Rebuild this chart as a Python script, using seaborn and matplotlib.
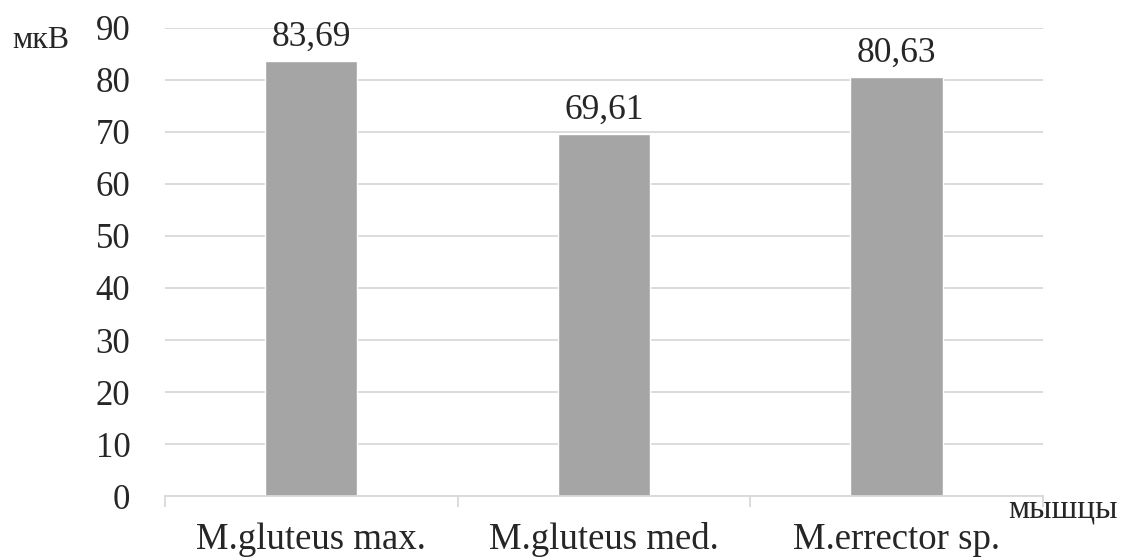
import matplotlib
matplotlib.use("Agg")
import matplotlib.pyplot as plt
import seaborn as sns
import pandas as pd

categories = ["M.gluteus max.", "M.gluteus med.", "M.errector sp."]
values = [83.69, 69.61, 80.63]
value_labels = ["83,69", "69,61", "80,63"]
y_ticks = [0, 10, 20, 30, 40, 50, 60, 70, 80, 90]

sns.set_style("white")
plt.rcParams['font.family'] = ['Liberation Serif', 'DejaVu Serif']

df = pd.DataFrame({"cat": categories, "val": values})

fig = plt.figure(figsize=(11.25, 5.58), dpi=100)
ax = fig.add_axes([0.1467, 0.111, 0.927 - 0.1467, 0.95 - 0.111])

sns.barplot(data=df, x="cat", y="val", color="#A5A5A5", saturation=1,
            width=0.315, ax=ax, zorder=3)

ax.set_ylim(0, 90)
ax.set_xlim(-0.5, 2.5)
ax.set_yticks(y_ticks)
ax.set_yticklabels([str(t) for t in y_ticks], fontsize=25)
ax.yaxis.grid(True, color="#D9D9D9", linewidth=1.3, zorder=0)
ax.set_axisbelow(True)

for s in ["left", "right", "top"]:
    ax.spines[s].set_visible(False)
ax.spines["bottom"].set_color("#D9D9D9")
ax.spines["bottom"].set_linewidth(1.3)
ax.spines["bottom"].set_zorder(4)

ax.tick_params(axis="y", length=0, pad=25)
ax.tick_params(axis="x", which="major", bottom=True, length=0, pad=19, labelsize=26.5)
ax.set_xticks([-0.5, 0.5, 1.5, 2.5], minor=True)
ax.tick_params(axis="x", which="minor", bottom=True, length=8, width=1.3, color="#D9D9D9")
ax.set_xlabel("")
ax.set_ylabel("")

ax.bar_label(ax.containers[0], labels=value_labels, padding=5, fontsize=25.5)

fig.text(12 / 1125, 1 - 48 / 558, "мкВ", fontsize=23, va="baseline", ha="left")
fig.text(1118 / 1125, 1 - 518 / 558, "мышцы", fontsize=24, va="baseline", ha="right")

fig.savefig("out.png", dpi=100)
